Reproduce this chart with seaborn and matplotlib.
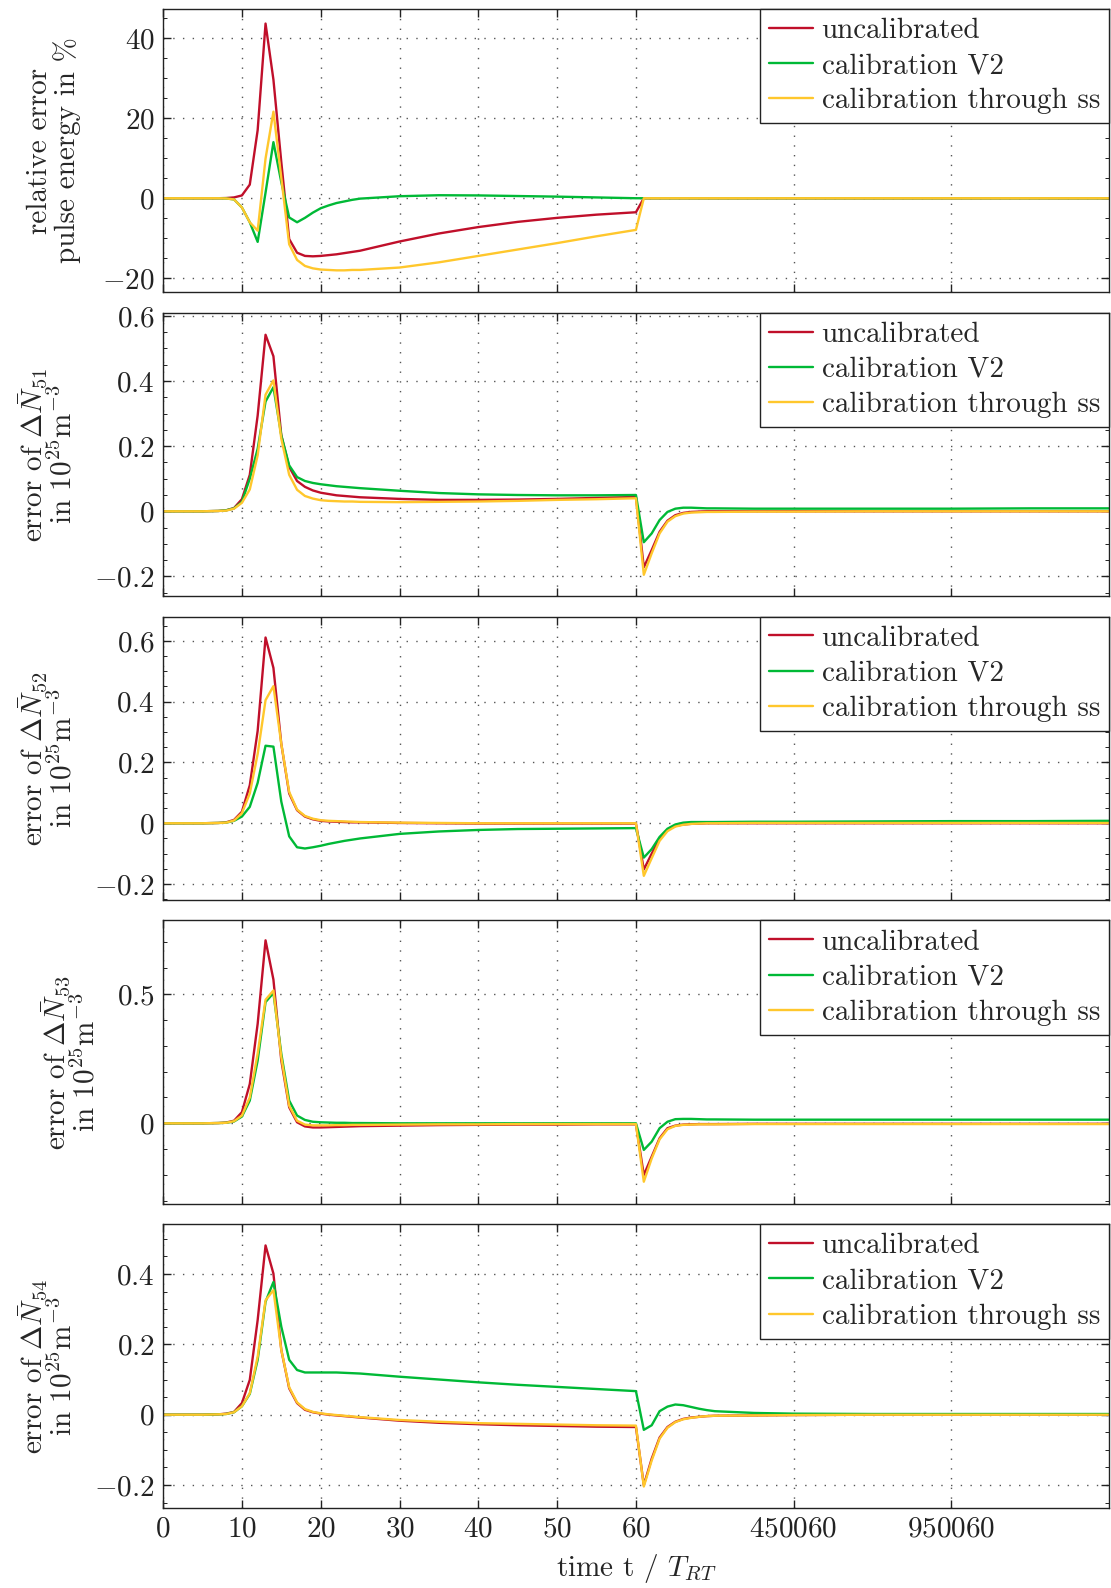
import numpy as np
import pandas as pd
import matplotlib
matplotlib.use("Agg")
import matplotlib.pyplot as plt
from matplotlib.lines import Line2D
from matplotlib.ticker import FixedLocator, FuncFormatter, AutoMinorLocator
import seaborn as sns

# ---- data -------------------------------------------------------------
# plot position along the (piecewise) time axis
t_pos = [0, 5, 7, 8, 9, 10, 11, 12, 13, 14, 15, 16, 17, 18, 19, 20, 21, 22, 23, 24,
         25, 30, 35, 40, 45, 50, 55, 60, 61, 62, 63, 64, 65, 66, 67, 68, 69, 70,
         75, 80, 90, 100, 110, 120]

x_tick_pos = [0, 10, 20, 30, 40, 50, 60, 80, 100]
x_tick_labels = ["0", "10", "20", "30", "40", "50", "60", "450060", "950060"]

series_names = ["uncalibrated", "calibration V2", "calibration through ss"]

# relative error of pulse energy in %
energy_uncal = [0, 0, 0, 0.05, 0.2, 0.7, 3.4, 17, 43.6, 29.6, 9, -10.2, -13.6, -14.4, -14.5,
                -14.4, -14.2, -14.0, -13.7, -13.4, -13.1, -10.8, -8.8, -7.2, -5.9, -4.9, -4.1, -3.5,
                0, 0, 0, 0, 0, 0, 0, 0, 0, 0, 0, 0, 0, 0, 0, 0]
energy_v2 = [0, 0, 0, -0.05, -0.3, -2.3, -6, -10.9, 1.4, 14, 4, -4.8, -6, -4.9, -3.6,
             -2.5, -1.8, -1.2, -0.8, -0.4, -0.1, 0.5, 0.75, 0.7, 0.55, 0.4, 0.2, 0.0,
             0, 0, 0, 0, 0, 0, 0, 0, 0, 0, 0, 0, 0, 0, 0, 0]
energy_ss = [0, 0, 0, -0.05, -0.3, -2.3, -6, -8.1, 9.9, 21.6, 5.1, -11.5, -15.4, -16.9, -17.5,
             -17.8, -17.9, -18.0, -18.0, -17.9, -17.9, -17.3, -16.0, -14.4, -12.8, -11.2, -9.5, -7.9,
             0, 0, 0, 0, 0, 0, 0, 0, 0, 0, 0, 0, 0, 0, 0, 0]

# error of Delta N51 in 1e25 m^-3
n51_uncal = [0, 0, 0.001, 0.003, 0.01, 0.037, 0.112, 0.294, 0.542, 0.476, 0.233, 0.136, 0.093, 0.075, 0.064,
             0.057, 0.053, 0.049, 0.047, 0.045, 0.043, 0.038, 0.035, 0.035, 0.036, 0.038, 0.041, 0.044,
             -0.172, -0.119, -0.063, -0.029, -0.012, -0.005, -0.002, -0.001, 0, 0, 0, 0, 0, 0, 0, 0]
n51_v2 = [0, 0, 0.001, 0.003, 0.009, 0.029, 0.1, 0.192, 0.337, 0.381, 0.233, 0.141, 0.105, 0.093, 0.087,
          0.083, 0.08, 0.077, 0.075, 0.073, 0.071, 0.063, 0.056, 0.052, 0.05, 0.049, 0.049, 0.05,
          -0.095, -0.068, -0.027, -0.002, 0.008, 0.011, 0.011, 0.01, 0.009, 0.009, 0.008, 0.008,
          0.008, 0.008, 0.009, 0.009]
n51_ss = [0, 0, 0.001, 0.002, 0.008, 0.026, 0.067, 0.172, 0.358, 0.402, 0.223, 0.112, 0.066, 0.047, 0.039,
          0.034, 0.032, 0.031, 0.03, 0.03, 0.029, 0.028, 0.029, 0.03, 0.032, 0.035, 0.037, 0.04,
          -0.195, -0.129, -0.068, -0.032, -0.015, -0.007, -0.004, -0.003, -0.002, -0.002, -0.001, -0.001,
          0, 0, 0, 0]

# error of Delta N52
n52_uncal = [0, 0, 0.001, 0.003, 0.011, 0.038, 0.125, 0.304, 0.611, 0.511, 0.261, 0.098, 0.043, 0.022, 0.013,
             0.008, 0.006, 0.005, 0.004, 0.003, 0.003, 0.001, 0, -0.001, -0.001, -0.001, -0.001, -0.001,
             -0.152, -0.1, -0.05, -0.022, -0.009, -0.004, -0.002, -0.001, 0, 0, 0, 0, 0, 0, 0, 0]
n52_v2 = [0, 0, 0.001, 0.002, 0.008, 0.022, 0.054, 0.133, 0.255, 0.252, 0.071, -0.043, -0.079, -0.083, -0.079,
          -0.074, -0.068, -0.063, -0.058, -0.054, -0.05, -0.035, -0.027, -0.022, -0.019, -0.018, -0.017, -0.016,
          -0.113, -0.085, -0.045, -0.018, -0.004, 0.002, 0.004, 0.004, 0.004, 0.004, 0.005, 0.005,
          0.006, 0.007, 0.007, 0.008]
n52_ss = [0, 0, 0.001, 0.002, 0.009, 0.033, 0.098, 0.228, 0.405, 0.451, 0.261, 0.103, 0.045, 0.024, 0.015,
          0.01, 0.008, 0.007, 0.006, 0.005, 0.004, 0.002, 0.001, 0, 0, 0, 0, 0,
          -0.173, -0.115, -0.058, -0.026, -0.011, -0.005, -0.002, -0.001, 0, 0, 0.001, 0.001,
          0.001, 0.001, 0.001, 0.001]

# error of Delta N53
n53_uncal = [0, 0, 0.001, 0.003, 0.01, 0.043, 0.152, 0.385, 0.708, 0.556, 0.243, 0.062, 0.004, -0.012, -0.016,
             -0.016, -0.015, -0.014, -0.013, -0.012, -0.011, -0.009, -0.007, -0.006, -0.005, -0.005, -0.004, -0.004,
             -0.2, -0.129, -0.058, -0.019, -0.009, -0.005, -0.004, -0.003, -0.003, -0.003, -0.002, -0.002,
             -0.002, -0.002, -0.002, -0.002]
n53_v2 = [0, 0, 0.001, 0.002, 0.007, 0.026, 0.088, 0.243, 0.469, 0.504, 0.269, 0.088, 0.03, 0.013, 0.006,
          0.004, 0.003, 0.002, 0.002, 0.001, 0.001, 0, 0, 0, 0, 0, 0, 0,
          -0.103, -0.071, -0.019, 0.006, 0.016, 0.017, 0.017, 0.016, 0.015, 0.015, 0.014, 0.014,
          0.014, 0.014, 0.014, 0.014]
n53_ss = [0, 0, 0.001, 0.002, 0.008, 0.03, 0.1, 0.27, 0.478, 0.514, 0.256, 0.068, 0.01, -0.005, -0.008,
          -0.008, -0.008, -0.007, -0.007, -0.006, -0.006, -0.005, -0.004, -0.004, -0.003, -0.003, -0.003, -0.003,
          -0.226, -0.136, -0.062, -0.023, -0.01, -0.006, -0.005, -0.004, -0.004, -0.004, -0.003, -0.003,
          -0.003, -0.003, -0.003, -0.003]

# error of Delta N54
n54_uncal = [0, 0, 0.001, 0.003, 0.008, 0.033, 0.099, 0.269, 0.481, 0.401, 0.184, 0.075, 0.033, 0.014, 0.007,
             0.003, 0.0, -0.002, -0.004, -0.006, -0.008, -0.017, -0.023, -0.027, -0.03, -0.032, -0.034, -0.035,
             -0.2, -0.125, -0.065, -0.035, -0.02, -0.012, -0.008, -0.006, -0.004, -0.003, -0.002, -0.001,
             0, 0, 0, 0]
n54_v2 = [0, 0, 0.001, 0.002, 0.007, 0.024, 0.059, 0.156, 0.321, 0.377, 0.25, 0.156, 0.127, 0.12, 0.12,
          0.12, 0.12, 0.12, 0.119, 0.118, 0.117, 0.108, 0.1, 0.092, 0.085, 0.079, 0.073, 0.067,
          -0.043, -0.03, 0.01, 0.023, 0.029, 0.027, 0.022, 0.017, 0.013, 0.01, 0.005, 0.003,
          0.002, 0.002, 0.002, 0.002]
n54_ss = [0, 0, 0.001, 0.002, 0.007, 0.024, 0.061, 0.165, 0.325, 0.354, 0.184, 0.078, 0.035, 0.016, 0.008,
          0.004, 0.001, -0.001, -0.003, -0.005, -0.007, -0.015, -0.02, -0.024, -0.026, -0.028, -0.03, -0.031,
          -0.204, -0.13, -0.068, -0.037, -0.021, -0.013, -0.009, -0.006, -0.004, -0.003, -0.002, -0.001,
          0, 0, 0, 0]

panels = [
    dict(series=[energy_uncal, energy_v2, energy_ss], yticks=[-20, 0, 20, 40], ylim=(-23.5, 47.3),
         ylabel="relative error\npulse energy in %", labx=-0.087),
    dict(series=[n51_uncal, n51_v2, n51_ss], yticks=[-0.2, 0, 0.2, 0.4, 0.6], ylim=(-0.261, 0.61),
         ylabel="error of $\\Delta\\bar{N}_{51}$\nin $10^{25}\\mathrm{m}^{-3}$", labx=-0.090),
    dict(series=[n52_uncal, n52_v2, n52_ss], yticks=[-0.2, 0, 0.2, 0.4, 0.6], ylim=(-0.253, 0.68),
         ylabel="error of $\\Delta\\bar{N}_{52}$\nin $10^{25}\\mathrm{m}^{-3}$", labx=-0.090),
    dict(series=[n53_uncal, n53_v2, n53_ss], yticks=[0, 0.5], ylim=(-0.3125, 0.785),
         ylabel="error of $\\Delta\\bar{N}_{53}$\nin $10^{25}\\mathrm{m}^{-3}$", labx=-0.066),
    dict(series=[n54_uncal, n54_v2, n54_ss], yticks=[-0.2, 0, 0.2, 0.4], ylim=(-0.265, 0.541),
         ylabel="error of $\\Delta\\bar{N}_{54}$\nin $10^{25}\\mathrm{m}^{-3}$", labx=-0.090),
]

colors = ["#C00F2A", "#00B936", "#FFC72C"]
FS = 21

# ---- styling ----------------------------------------------------------
sns.set_theme(style="ticks")
plt.rcParams.update({
    "font.family": ["cmr10", "DejaVu Serif"],
    "mathtext.fontset": "cm",
    "axes.formatter.use_mathtext": True,
    "font.size": FS,
    "axes.edgecolor": "#222222",
    "axes.linewidth": 1.0,
    "xtick.direction": "in",
    "ytick.direction": "in",
    "xtick.color": "#222222",
    "ytick.color": "#222222",
    "xtick.labelcolor": "#222222",
    "ytick.labelcolor": "#222222",
})

fig, axes = plt.subplots(5, 1, figsize=(11.11, 15.88), dpi=100, sharex=True)
fig.subplots_adjust(left=0.1468, right=0.998, top=0.9945, bottom=0.0504, hspace=0.0714)

def fmt(v, _):
    s = f"{v:g}"
    return f"${s}$"

for ax, p in zip(axes, panels):
    frames = []
    for name, vals in zip(series_names, p["series"]):
        frames.append(pd.DataFrame({"t": t_pos, "value": vals, "series": name}))
    df = pd.concat(frames, ignore_index=True)
    sns.lineplot(data=df, x="t", y="value", hue="series", palette=colors,
                 hue_order=series_names, estimator=None, sort=False,
                 linewidth=1.7, legend=False, ax=ax)

    ax.set_xlim(0, 120)
    ax.set_ylim(*p["ylim"])
    ax.xaxis.set_major_locator(FixedLocator(x_tick_pos))
    ax.yaxis.set_major_locator(FixedLocator(p["yticks"]))
    ax.yaxis.set_minor_locator(AutoMinorLocator())
    ax.yaxis.set_major_formatter(FuncFormatter(fmt))
    ax.tick_params(which="major", length=6, width=1.0, labelsize=FS,
                   top=True, right=True, pad=6)
    ax.tick_params(which="minor", length=3, width=0.7, left=True, right=True)
    ax.grid(True, which="major", linestyle=(0, (1, 6)), linewidth=1.0, color="#555555")
    ax.set_ylabel(p["ylabel"], fontsize=FS, linespacing=1.0)
    ax.yaxis.set_label_coords(p["labx"], 0.5)
    ax.set_xlabel("")

    handles = [Line2D([], [], color=c, linewidth=1.7) for c in colors]
    leg = ax.legend(handles, series_names, loc="upper right", borderaxespad=0.0,
                    fontsize=FS, frameon=True, fancybox=False, framealpha=1.0,
                    edgecolor="#222222", handlelength=1.5, handletextpad=0.3,
                    labelspacing=0.3, borderpad=0.3)
    leg.get_frame().set_linewidth(1.0)

axes[-1].set_xticks(x_tick_pos)
axes[-1].set_xticklabels([f"${l}$" for l in x_tick_labels])
axes[-1].set_xlabel("time t / $T_{RT}$", fontsize=FS, labelpad=7)

fig.savefig("out.png", dpi=100)
